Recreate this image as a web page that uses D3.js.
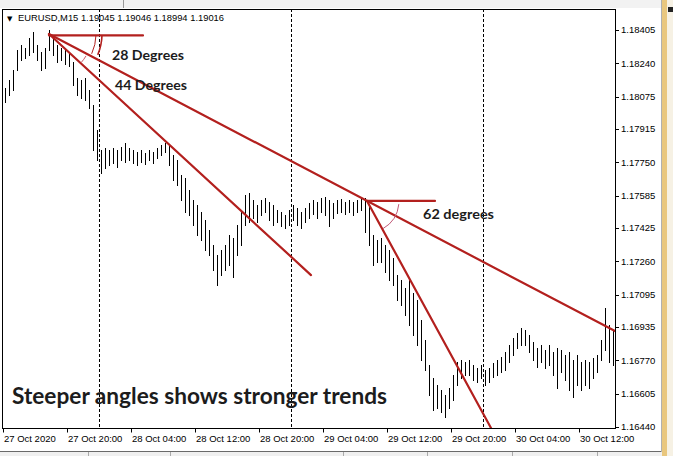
<!DOCTYPE html>
<html><head><meta charset="utf-8">
<script src="https://cdn.jsdelivr.net/npm/d3@7"></script>
<style>body{margin:0;background:#fff}svg{display:block}</style>
</head><body><svg id="c" width="673" height="456"></svg>
<script>
const symbolText = "EURUSD,M15";
const quoteText = "1.19045 1.19046 1.18994 1.19016";
const firstBarTime = "2020-10-27T12:15:00Z";
const barMinutes = 30;
const highs = [
1.18118,1.18158,1.18207,1.18306,1.18331,1.18316,1.18365,1.18395,1.18331,1.18296,
1.18316,1.18405,1.18380,1.18331,1.18316,1.18306,1.18296,1.18247,1.18167,1.18158,
1.18167,1.18108,1.18034,1.17910,1.17811,1.17821,1.17811,1.17821,1.17811,1.17826,
1.17846,1.17821,1.17811,1.17801,1.17811,1.17796,1.17811,1.17801,1.17821,1.17836,
1.17846,1.17836,1.17786,1.17762,1.17687,1.17672,1.17613,1.17564,1.17539,1.17504,
1.17465,1.17415,1.17341,1.17291,1.17316,1.17341,1.17390,1.17375,1.17440,1.17514,
1.17588,1.17598,1.17564,1.17539,1.17564,1.17573,1.17554,1.17539,1.17514,1.17504,
1.17489,1.17514,1.17539,1.17524,1.17504,1.17524,1.17549,1.17564,1.17554,1.17573,
1.17578,1.17564,1.17549,1.17564,1.17568,1.17554,1.17564,1.17554,1.17564,1.17573,
1.17573,1.17539,1.17390,1.17366,1.17375,1.17341,1.17316,1.17276,1.17192,1.17168,
1.17128,1.17168,1.17103,1.17069,1.16970,1.16871,1.16747,1.16682,1.16648,1.16623,
1.16598,1.16633,1.16697,1.16762,1.16772,1.16762,1.16772,1.16747,1.16732,1.16747,
1.16722,1.16732,1.16757,1.16772,1.16786,1.16811,1.16846,1.16880,1.16905,1.16930,
1.16920,1.16895,1.16861,1.16831,1.16846,1.16821,1.16846,1.16811,1.16831,1.16821,
1.16796,1.16811,1.16772,1.16796,1.16762,1.16772,1.16762,1.16781,1.16796,1.16871,
1.17029,1.16945,1.16920];
const lows = [
1.18049,1.18083,1.18108,1.18207,1.18257,1.18266,1.18281,1.18296,1.18257,1.18207,
1.18217,1.18306,1.18281,1.18247,1.18257,1.18237,1.18227,1.18133,1.18083,1.18068,
1.18059,1.18019,1.17811,1.17762,1.17697,1.17722,1.17737,1.17747,1.17727,1.17762,
1.17752,1.17762,1.17747,1.17737,1.17752,1.17742,1.17762,1.17747,1.17771,1.17786,
1.17801,1.17737,1.17663,1.17638,1.17564,1.17504,1.17489,1.17440,1.17390,1.17366,
1.17316,1.17291,1.17217,1.17143,1.17192,1.17217,1.17242,1.17182,1.17291,1.17341,
1.17440,1.17455,1.17474,1.17455,1.17489,1.17504,1.17465,1.17440,1.17455,1.17435,
1.17425,1.17440,1.17465,1.17440,1.17425,1.17455,1.17474,1.17494,1.17474,1.17504,
1.17489,1.17435,1.17474,1.17499,1.17504,1.17494,1.17504,1.17489,1.17504,1.17514,
1.17405,1.17341,1.17242,1.17257,1.17257,1.17207,1.17168,1.17143,1.17069,1.17044,
1.16994,1.16945,1.16895,1.16846,1.16772,1.16722,1.16598,1.16524,1.16534,1.16514,
1.16489,1.16534,1.16574,1.16648,1.16682,1.16697,1.16697,1.16673,1.16663,1.16682,
1.16648,1.16663,1.16687,1.16697,1.16712,1.16722,1.16762,1.16796,1.16831,1.16846,
1.16846,1.16811,1.16772,1.16737,1.16762,1.16732,1.16747,1.16697,1.16633,1.16712,
1.16673,1.16623,1.16588,1.16648,1.16623,1.16648,1.16633,1.16682,1.16712,1.16772,
1.16821,1.16762,1.16747];
const priceTicks = [1.18405,1.18240,1.18075,1.17915,1.17750,1.17585,1.17425,1.17260,1.17095,1.16935,1.16770,1.16605,1.16440];
const timeTicks = ["2020-10-27T12:00:00Z","2020-10-27T20:00:00Z","2020-10-28T04:00:00Z","2020-10-28T12:00:00Z","2020-10-28T20:00:00Z","2020-10-29T04:00:00Z","2020-10-29T12:00:00Z","2020-10-29T20:00:00Z","2020-10-30T04:00:00Z","2020-10-30T12:00:00Z"];
const timeTickLabels = ["27 Oct 2020","27 Oct 20:00","28 Oct 04:00","28 Oct 12:00","28 Oct 20:00","29 Oct 04:00","29 Oct 12:00","29 Oct 20:00","30 Oct 04:00","30 Oct 12:00"];
const daySeparators = ["2020-10-28T00:00:00Z","2020-10-29T00:00:00Z","2020-10-30T00:00:00Z"];
// trend-line anchor points [time, price]
const apexA = ["2020-10-27T17:45:00Z", 1.18385];
const apexB = ["2020-10-29T09:30:00Z", 1.17559];
const line28End = ["2020-10-30T16:30:00Z", 1.16915];
const line44End = ["2020-10-29T02:30:00Z", 1.17192];
const line62End = ["2020-10-30T01:00:00Z", 1.16435];
const levelA = [["2020-10-27T17:45:00Z", 1.18378], ["2020-10-28T05:30:00Z", 1.18378]];
const levelB = [["2020-10-29T09:30:00Z", 1.17559], ["2020-10-29T18:00:00Z", 1.17559]];
const angleLabels = ["28 Degrees", "44 Degrees", "62 degrees"];
const caption = "Steeper angles shows stronger trends";

const svg = d3.select("#c");
const W = 673, H = 456;
const L = 3, R = 615, T = 9, B = 428.5;

const x = d3.scaleUtc().domain([new Date("2020-10-27T12:00:00Z"), new Date("2020-10-30T16:30:00Z")]).range([L, R]);
const y = d3.scaleLinear().domain([1.16440, 1.18405]).range([427, 30]);

// window chrome
svg.append("rect").attr("x",0).attr("y",0).attr("width",W).attr("height",H).attr("fill","#fff");
svg.append("rect").attr("x",0).attr("y",0).attr("width",662).attr("height",8).attr("fill","#f2f2f2");
svg.append("line").attr("x1",123.5).attr("x2",123.5).attr("y1",0).attr("y2",8).attr("stroke","#9a9a9a");
svg.append("rect").attr("x",0).attr("y",452).attr("width",662).attr("height",4).attr("fill","#f0f0f0");
svg.append("line").attr("x1",0).attr("x2",662).attr("y1",451.5).attr("y2",451.5).attr("stroke","#6a6a6a");
[88,170,343,427,512,597].forEach(v=>svg.append("line").attr("x1",v+0.5).attr("x2",v+0.5).attr("y1",452).attr("y2",456).attr("stroke","#aaa"));
svg.append("line").attr("x1",661.5).attr("x2",661.5).attr("y1",0).attr("y2",452).attr("stroke","#b0b0b0");
svg.append("rect").attr("x",662).attr("y",0).attr("width",5).attr("height",H).attr("fill","#e9c77e");
svg.append("rect").attr("x",667).attr("y",0).attr("width",6).attr("height",H).attr("fill","#f6f1e4");
svg.append("rect").attr("x",668).attr("y",7).attr("width",5).attr("height",5).attr("fill","#222");

// day separators
svg.append("g").selectAll("line").data(daySeparators).join("line")
  .attr("x1", d => Math.round(x(new Date(d))) + 0.5).attr("x2", d => Math.round(x(new Date(d))) + 0.5)
  .attr("y1", T).attr("y2", B)
  .attr("stroke", "#000").attr("stroke-width", 1).attr("stroke-dasharray", "3,2");

// header
svg.append("text").attr("x", 7).attr("y", 21).attr("font-family","DejaVu Sans").attr("font-size", 7).attr("fill","#000").text("▼");
svg.append("text").attr("x", 18).attr("y", 21).attr("font-family","Liberation Sans, Arial").attr("font-size", 9.5)
  .attr("fill","#000").attr("textLength", 206).attr("lengthAdjust","spacingAndGlyphs")
  .text(symbolText + "  " + quoteText);

// bars
const t0 = new Date(firstBarTime).getTime();
const bars = highs.map((h, i) => ({t: new Date(t0 + i * barMinutes * 60000), h, l: lows[i]}));
svg.append("g").attr("shape-rendering","crispEdges").selectAll("line").data(bars).join("line")
  .attr("x1", d => Math.round(x(d.t)) + 0.5).attr("x2", d => Math.round(x(d.t)) + 0.5)
  .attr("y1", d => Math.round(y(d.h))).attr("y2", d => Math.round(y(d.l)) + 1)
  .attr("stroke", "#000").attr("stroke-width", 1);

// trend lines
svg.append("clipPath").attr("id","plot").append("rect").attr("x",L).attr("y",T).attr("width",R-L).attr("height",B-T);
const P = d => [x(new Date(d[0])), y(d[1])];
const red = "#b3201e";
const tg = svg.append("g").attr("clip-path","url(#plot)");
const segs = [[apexA, line28End], [apexA, line44End], [apexB, line62End], levelA, levelB];
tg.selectAll("line.tl").data(segs).join("line").attr("class","tl")
  .attr("x1", d => P(d[0])[0]).attr("y1", d => P(d[0])[1])
  .attr("x2", d => P(d[1])[0]).attr("y2", d => P(d[1])[1])
  .attr("stroke", red).attr("stroke-width", 2.2).attr("stroke-linecap","round");

function ang(a, b){ const p=P(a), q=P(b); return Math.atan2(q[1]-p[1], q[0]-p[0]); }
function arc(c, r, a0, a1){
  const [cx, cy] = P(c);
  const p = d3.path();
  p.moveTo(cx + r*Math.cos(a0), cy + r*Math.sin(a0));
  p.arc(cx, cy, r, a0, a1, false);
  return p.toString();
}
const a28 = ang(apexA, line28End), a44 = ang(apexA, line44End), a62 = ang(apexB, line62End);
const arcs = [
  {d: arc(apexA, 47, 0.02, a28 - 0.05), c: red, w: 1},
  {d: arc(apexA, 53, 0.02, a28 - 0.08), c: red, w: 1.6},
  {d: arc(apexA, 43, a28 + 0.05, a44 - 0.02), c: "#c85a6a", w: 1},
  {d: arc(apexB, 32, 0.1, a62 - 0.02), c: "#c25a78", w: 1}
];
tg.selectAll("path.arc").data(arcs).join("path").attr("class","arc")
  .attr("d", d => d.d).attr("fill","none").attr("stroke", d => d.c).attr("stroke-width", d => d.w);

// frame
svg.append("rect").attr("x", L - 0.5).attr("y", T + 0.5).attr("width", R - L + 1).attr("height", B - T - 0.5)
  .attr("fill","none").attr("stroke","#000").attr("stroke-width",1).attr("shape-rendering","crispEdges");

// price axis
const ya = svg.append("g").attr("font-family","Liberation Sans, Arial").attr("font-size", 9.5).attr("fill","#000");
ya.selectAll("line").data(priceTicks).join("line")
  .attr("x1", R + 0.5).attr("x2", R + 4).attr("y1", d => Math.round(y(d)) + 0.5).attr("y2", d => Math.round(y(d)) + 0.5)
  .attr("stroke","#000");
ya.selectAll("text").data(priceTicks).join("text")
  .attr("x", R + 6).attr("y", d => y(d)).attr("dy","0.35em").text(d => d.toFixed(5));

// time axis
const xa = svg.append("g").attr("font-family","Liberation Sans, Arial").attr("font-size", 9.5).attr("fill","#000");
xa.selectAll("line").data(timeTicks).join("line")
  .attr("x1", d => Math.round(x(new Date(d))) + 0.5).attr("x2", d => Math.round(x(new Date(d))) + 0.5)
  .attr("y1", B).attr("y2", B + 4).attr("stroke","#000");
xa.selectAll("text").data(timeTicks).join("text")
  .attr("x", d => x(new Date(d)) + 1).attr("y", 442).text((d, i) => timeTickLabels[i]);

// annotations
const ag = svg.append("g").attr("font-family","Lato, 'Open Sans', sans-serif").attr("font-weight","bold").attr("fill","#1c1c1c");
ag.append("text").attr("x",112).attr("y",60).attr("font-size",14).attr("textLength",72).attr("lengthAdjust","spacingAndGlyphs").text(angleLabels[0]);
ag.append("text").attr("x",115).attr("y",90).attr("font-size",14).attr("textLength",72).attr("lengthAdjust","spacingAndGlyphs").text(angleLabels[1]);
ag.append("text").attr("x",423).attr("y",219).attr("font-size",14).attr("textLength",71).attr("lengthAdjust","spacingAndGlyphs").text(angleLabels[2]);
ag.append("text").attr("x",12).attr("y",404).attr("font-size",22).attr("textLength",375).attr("lengthAdjust","spacingAndGlyphs").text(caption);
</script></body></html>
